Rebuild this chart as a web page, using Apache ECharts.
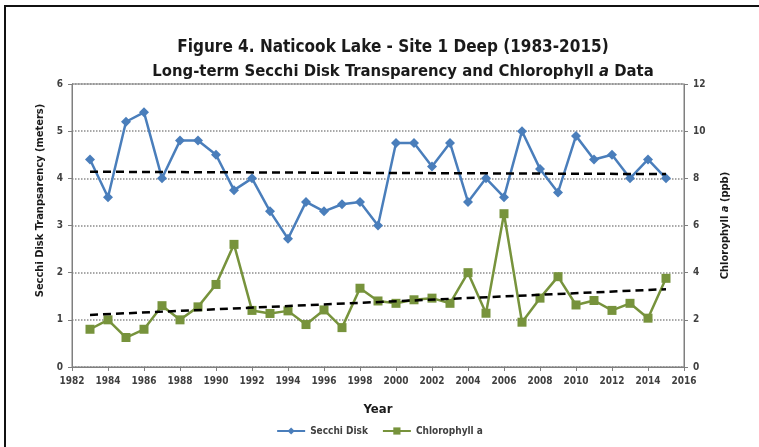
<!DOCTYPE html>
<html>
<head>
<meta charset="utf-8">
<script src="https://cdn.jsdelivr.net/npm/echarts@6/dist/echarts.min.js"></script>
<style>
  html, body { margin: 0; padding: 0; background: #fff; }
  #chart { width: 759px; height: 447px; }
</style>
</head>
<body>
<div id="chart"></div>
<script>
// years and measured values
var years = [1983, 1984, 1985, 1986, 1987, 1988, 1989, 1990, 1991, 1992, 1993,
  1994, 1995, 1996, 1997, 1998, 1999, 2000, 2001, 2002, 2003, 2004, 2005, 2006,
  2007, 2008, 2009, 2010, 2011, 2012, 2013, 2014, 2015];
// Secchi disk transparency (meters)
var secchi = [4.4, 3.6, 5.2, 5.4, 4.0, 4.8, 4.8, 4.5, 3.75, 4.0, 3.3,
  2.72, 3.5, 3.3, 3.45, 3.5, 3.0, 4.75, 4.75, 4.25, 4.75, 3.5, 4.0, 3.6,
  5.0, 4.2, 3.7, 4.9, 4.4, 4.5, 4.0, 4.4, 4.0];
// Chlorophyll a (ppb)
var chl = [1.6, 2.0, 1.25, 1.6, 2.6, 2.0, 2.55, 3.5, 5.2, 2.4, 2.27,
  2.38, 1.8, 2.42, 1.67, 3.34, 2.8, 2.7, 2.85, 2.92, 2.7, 4.0, 2.28, 6.5,
  1.9, 2.92, 3.83, 2.63, 2.82, 2.4, 2.7, 2.07, 3.76];
// trend line end points
var trendYears = [1983, 2015];
var secchiTrend = [4.14, 4.09];
var chlTrend = [2.21, 3.3];

function pairs(xs, ys) {
  return xs.map(function (x, i) { return [x, ys[i]]; });
}

var myChart = echarts.init(document.getElementById('chart'));
var font = "'Liberation Sans Narrow', 'DejaVu Sans Condensed', sans-serif";
var labelStyle = { color: '#404040', fontWeight: 'bold', fontSize: 10, fontFamily: font };

myChart.setOption({
  animation: false,
  textStyle: { fontFamily: font },
  title: [
    {
      text: 'Figure 4. Naticook Lake - Site 1 Deep (1983-2015)',
      left: 388, top: 34, textAlign: 'center',
      textStyle: { fontSize: 17, fontWeight: 'bold', color: '#1a1a1a', fontFamily: font }
    },
    {
      text: '{b|Long-term Secchi Disk Transparency and Chlorophyll }{i|a}{b| Data}',
      left: 398, top: 58, textAlign: 'center',
      textStyle: {
        rich: {
          b: { fontSize: 16.5, fontWeight: 'bold', color: '#1a1a1a', fontFamily: font },
          i: { fontSize: 16.5, fontWeight: 'bold', fontStyle: 'italic', color: '#1a1a1a', fontFamily: font }
        }
      }
    }
  ],
  grid: {
    left: 72, right: 75, top: 84, bottom: 80,
    show: true, borderColor: '#7f7f7f', borderWidth: 1
  },
  legend: {
    data: ['Secchi Disk', 'Chlorophyll a'],
    bottom: 6, left: 'center',
    itemWidth: 28, itemHeight: 9, itemGap: 14,
    textStyle: { fontSize: 10, color: '#404040', fontWeight: 'bold', fontFamily: font }
  },
  xAxis: {
    type: 'value', min: 1982, max: 2016, interval: 2,
    name: 'Year', nameLocation: 'middle', nameGap: 36,
    nameTextStyle: { fontSize: 13, fontWeight: 'bold', color: '#1a1a1a', fontFamily: font },
    axisLine: { lineStyle: { color: '#7f7f7f' } },
    axisTick: { show: true, length: 4, lineStyle: { color: '#7f7f7f' } },
    axisLabel: Object.assign({ margin: 9, formatter: function (v) { return String(v); } }, labelStyle),
    splitLine: { show: false }
  },
  yAxis: [
    {
      type: 'value', min: 0, max: 6, interval: 1,
      name: 'Secchi Disk Tranpsarency (meters)', nameLocation: 'middle',
      nameRotate: 90, nameGap: 24,
      nameTextStyle: { fontSize: 11, fontWeight: 'bold', color: '#1a1a1a', fontFamily: font, padding: [0, 0, 0, 50] },
      axisLine: { show: true, lineStyle: { color: '#7f7f7f' } },
      axisTick: { show: true, length: 4, lineStyle: { color: '#7f7f7f' } },
      axisLabel: Object.assign({ margin: 9 }, labelStyle),
      splitLine: { lineStyle: { color: '#8c8c8c', type: 'dotted', width: 1.5 } }
    },
    {
      type: 'value', min: 0, max: 12, interval: 2,
      name: '{b|Chlorophyll }{i|a}{b| (ppb)}', nameLocation: 'middle',
      nameRotate: 90, nameGap: 36,
      nameTextStyle: {
        rich: {
          b: { fontSize: 11, fontWeight: 'bold', color: '#1a1a1a', fontFamily: font },
          i: { fontSize: 11, fontWeight: 'bold', fontStyle: 'italic', color: '#1a1a1a', fontFamily: font }
        }
      },
      axisLine: { show: true, lineStyle: { color: '#7f7f7f' } },
      axisTick: { show: true, length: 4, lineStyle: { color: '#7f7f7f' } },
      axisLabel: Object.assign({ margin: 9 }, labelStyle),
      splitLine: { show: false }
    }
  ],
  series: [
    {
      name: 'Secchi Disk', type: 'line', yAxisIndex: 0,
      data: pairs(years, secchi),
      symbol: 'diamond', symbolSize: 10,
      itemStyle: { color: '#4a7ebb' },
      lineStyle: { color: '#4a7ebb', width: 2.5 },
      z: 3
    },
    {
      name: 'Chlorophyll a', type: 'line', yAxisIndex: 1,
      data: pairs(years, chl),
      symbol: 'rect', symbolSize: 9,
      itemStyle: { color: '#77933c' },
      lineStyle: { color: '#77933c', width: 2.5 },
      z: 3
    },
    {
      name: 'Secchi trend', type: 'line', yAxisIndex: 0,
      data: pairs(trendYears, secchiTrend),
      symbol: 'none',
      lineStyle: { color: '#000', width: 2.5, type: [8, 5] },
      z: 4
    },
    {
      name: 'Chlorophyll trend', type: 'line', yAxisIndex: 1,
      data: pairs(trendYears, chlTrend),
      symbol: 'none',
      lineStyle: { color: '#000', width: 2.5, type: [8, 5] },
      z: 4
    }
  ],
  graphic: [
    {
      type: 'polyline', silent: true,
      shape: { points: [[5, 447], [5, 6], [759, 6]] },
      style: { stroke: '#111', lineWidth: 2, fill: null }
    }
  ]
});

window.addEventListener('resize', function () {
  myChart.resize();
});
</script>
</body>
</html>
